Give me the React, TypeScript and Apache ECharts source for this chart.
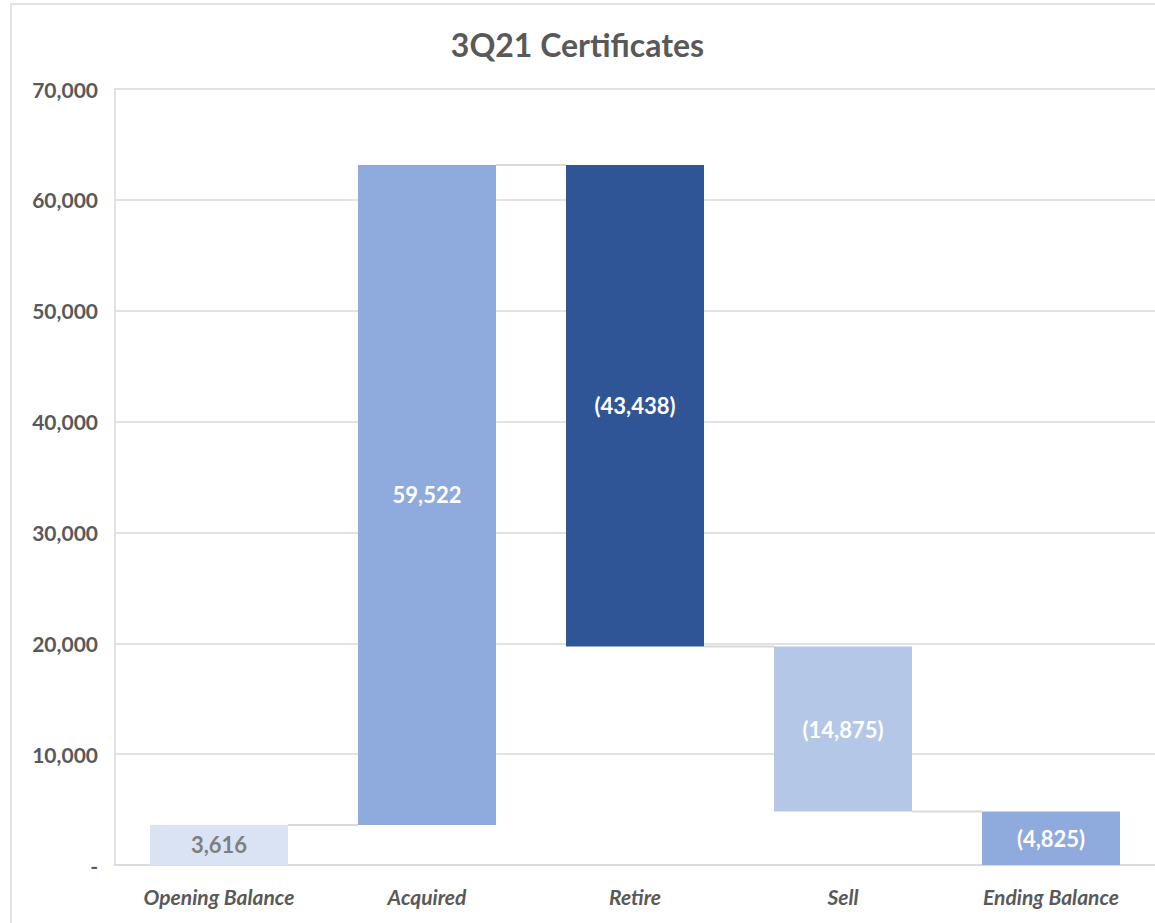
import React, { useEffect, useRef } from "react";
import * as echarts from "echarts";

const categories = ["Opening Balance", "Acquired", "Retire", "Sell", "Ending Balance"];
const baseValues = [0, 3616, 19700, 4825, 0];
const barValues = [3616, 59522, 43438, 14875, 4825];
const barLabels = ["3,616", "59,522", "(43,438)", "(14,875)", "(4,825)"];
const barColors = ["#DAE3F3", "#8FAADC", "#2F5597", "#B4C7E7", "#8FAADC"];
const labelColors = ["#7F7F7F", "#FFFFFF", "#FFFFFF", "#FFFFFF", "#FFFFFF"];
const connectorLevels = [3616, 63138, 19700, 4825];

const FONT = "Lato";
const BAR_WIDTH = 138;

export default function App() {
  const ref = useRef<HTMLDivElement>(null);
  useEffect(() => {
    const chart = echarts.init(ref.current!, undefined, { renderer: "svg" });
    chart.setOption({
      animation: false,
      backgroundColor: "#FFFFFF",
      textStyle: { fontFamily: FONT },
      title: {
        text: "3Q21 Certificates",
        left: "center",
        top: 23,
        textStyle: { fontFamily: FONT, fontSize: 32, fontWeight: "bold", color: "#595959" },
      },
      graphic: [
        {
          type: "rect",
          shape: { x: 11, y: 4, width: 1200, height: 1000 },
          style: { fill: "none", stroke: "#D9D9D9", lineWidth: 1.5 },
          silent: true,
          z: -1,
        },
      ],
      grid: { left: 115, right: -3, top: 89, bottom: 58, containLabel: false },
      xAxis: {
        type: "category",
        data: categories,
        axisLine: { show: true, lineStyle: { color: "#D9D9D9", width: 1.5 } },
        axisTick: { show: false },
        axisLabel: {
          fontFamily: FONT,
          fontSize: 21,
          fontWeight: "bold",
          fontStyle: "italic",
          color: "#595959",
          margin: 21,
        },
      },
      yAxis: {
        type: "value",
        min: 0,
        max: 70000,
        interval: 10000,
        axisLine: { show: true, lineStyle: { color: "#D9D9D9", width: 1.5 } },
        axisTick: { show: false },
        splitLine: { lineStyle: { color: "#D9D9D9", width: 1.5 } },
        axisLabel: {
          fontFamily: FONT,
          fontSize: 21,
          fontWeight: "bold",
          color: "#595959",
          margin: 17,
          formatter: (v: number) => (v === 0 ? "-" : v.toLocaleString("en-US")),
        },
      },
      series: [
        {
          type: "bar",
          stack: "w",
          barWidth: BAR_WIDTH,
          itemStyle: { color: "transparent" },
          emphasis: { disabled: true },
          data: baseValues,
          silent: true,
        },
        {
          type: "bar",
          stack: "w",
          barWidth: BAR_WIDTH,
          data: barValues.map((v, i) => ({
            value: v,
            itemStyle: { color: barColors[i] },
            label: {
              show: true,
              position: "inside",
              formatter: barLabels[i],
              color: labelColors[i],
              fontFamily: FONT,
              fontSize: 22,
              fontWeight: "bold",
            },
          })),
        },
        {
          type: "custom",
          silent: true,
          z: 1,
          data: connectorLevels.map((v, i) => [i, v]),
          renderItem: (params: any, api: any) => {
            const p = api.coord([api.value(0), api.value(1)]);
            const bw = api.size([1, 0])[0];
            return {
              type: "line",
              shape: {
                x1: p[0] + BAR_WIDTH / 2,
                y1: p[1],
                x2: p[0] + bw - BAR_WIDTH / 2,
                y2: p[1],
              },
              style: { stroke: "#D9D9D9", lineWidth: 2 },
            };
          },
        },
      ],
    });
    return () => chart.dispose();
  }, []);
  return (
    <div
      ref={ref}
      style={{ position: "fixed", left: 0, top: 0, width: 1155, height: 923 }}
    />
  );
}
